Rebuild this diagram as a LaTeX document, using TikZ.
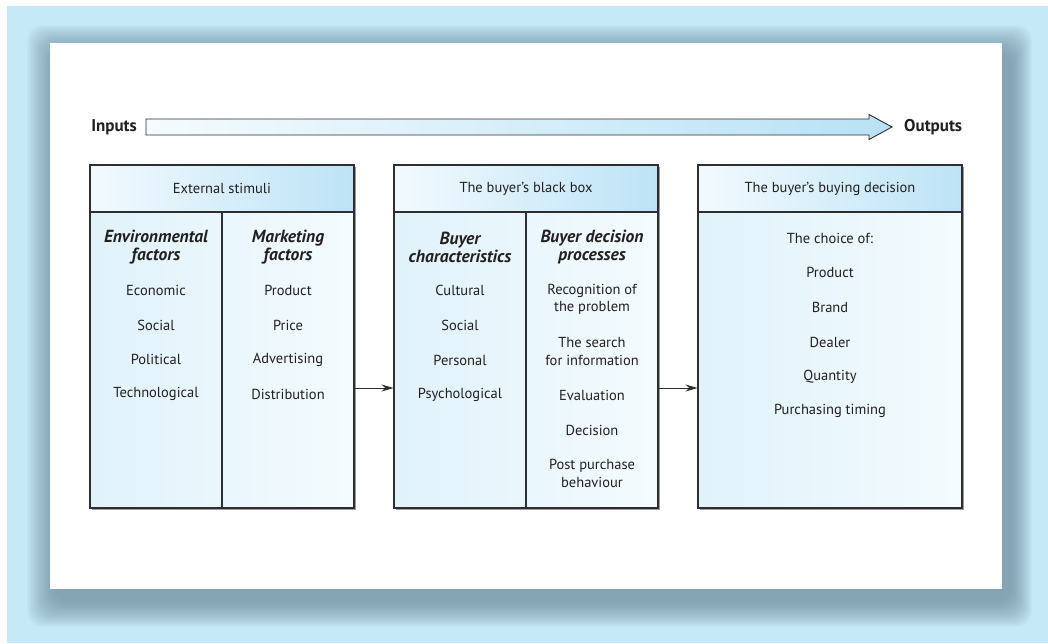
\documentclass[tikz,border=0pt]{standalone}
\usepackage{fontspec}
\setmainfont{PT Sans}
\usetikzlibrary{arrows.meta,shadows}
\definecolor{bgblue}{HTML}{C6E9F8}
\definecolor{shadowc}{HTML}{6A8898}
\definecolor{boxline}{HTML}{2E2E2E}
\definecolor{headL}{HTML}{F2FAFE}
\definecolor{headR}{HTML}{BDE3F6}
\definecolor{bodyL}{HTML}{E0F2FB}
\definecolor{bodyR}{HTML}{F4FBFE}
\definecolor{arrL}{HTML}{F4FBFE}
\definecolor{arrR}{HTML}{B9E1F5}
\definecolor{txt}{HTML}{231F20}
\newcommand{\itemfnt}{\fontsize{14.5}{17.5}\selectfont}
\newcommand{\colfnt}{\fontsize{17.5}{18}\selectfont}
\tikzset{
  boxhead/.style={draw=boxline, line width=1.1pt, left color=headL, right color=headR,
    minimum width=264pt, minimum height=47pt, inner sep=0pt,
    drop shadow={shadow xshift=1.5pt, shadow yshift=-1.5pt, fill=black!55, opacity=0.7}},
  boxbody/.style={draw=boxline, line width=1.1pt, left color=bodyL, right color=bodyR,
    minimum width=264pt, minimum height=296pt, inner sep=0pt,
    drop shadow={shadow xshift=1.5pt, shadow yshift=-1.5pt, fill=black!55, opacity=0.7}},
  lbl/.style={font=\itemfnt, text=txt, inner sep=0pt, align=center},
  colhead/.style={font=\colfnt\bfseries\itshape, text=txt, inner sep=0pt, align=center},
  io/.style={font=\fontsize{17}{20}\selectfont\bfseries, text=txt, inner sep=0pt},
  conn/.style={draw=boxline, line width=0.9pt, -{Stealth[length=12pt,width=7pt]}},
}
\begin{document}
\begin{tikzpicture}[x=1pt,y=-1pt]
\useasboundingbox (0,0) rectangle (1048,643);
% background
\fill[white] (0,0) rectangle (1048,643);
\fill[bgblue] (7,6) rectangle (1048,643);
% panel shadow
\foreach \i in {0,...,19} {
  \fill[shadowc, opacity=0.05, rounded corners=16pt]
    ({27+\i*1.4},{25+\i*1.4}) rectangle ({1032-\i*1.1},{627-\i*1.3});
}
\fill[white] (50,43) rectangle (1002,589);

% inputs / outputs
\node[io, anchor=east] (inp) at (137,127) {Inputs};
\node[io, anchor=west] (outp) at (904,127) {Outputs};
\coordinate (as) at (146,127);
\coordinate (ae) at (892,127);
\draw[boxline, line width=0.9pt, left color=arrL, right color=arrR]
  ([yshift=-8pt]as) -- ([xshift=-23pt,yshift=-8pt]ae) -- ([xshift=-23pt,yshift=-12.5pt]ae)
  -- (ae) -- ([xshift=-23pt,yshift=12.5pt]ae) -- ([xshift=-23pt,yshift=8pt]ae)
  -- ([yshift=8pt]as) -- cycle;

% box 1
\node[boxhead] (h1) at (222,188.5) {};
\node[lbl] (h1t) at (h1.center) {External stimuli};
\node[boxbody] (d1) at (222,360) {};
\draw[boxline, line width=1.1pt] (h1.south) -- (d1.south);
\node[colhead] (c11) at (156,247) {Environmental\\factors};
\node[lbl] (e1) at (156,290) {Economic};
\node[lbl] (e2) at (156,325) {Social};
\node[lbl] (e3) at (156,359) {Political};
\node[lbl] (e4) at (156,394) {Technological};
\node[colhead] (c12) at (288,247) {Marketing\\factors};
\node[lbl] (m1) at (288,290) {Product};
\node[lbl] (m2) at (288,325) {Price};
\node[lbl] (m3) at (288,360) {Advertising};
\node[lbl] (m4) at (288,394) {Distribution};

% box 2
\node[boxhead] (h2) at (526,188.5) {};
\node[lbl] (h2t) at (h2.center) {The buyer’s black box};
\node[boxbody] (d2) at (526,360) {};
\draw[boxline, line width=1.1pt] (h2.south) -- (d2.south);
\node[colhead] (c21) at (460,247) {Buyer\\characteristics};
\node[lbl] (b1) at (460,290) {Cultural};
\node[lbl] (b2) at (460,325) {Social};
\node[lbl] (b3) at (460,360) {Personal};
\node[lbl] (b4) at (460,395) {Psychological};
\node[colhead] (c22) at (592,247) {Buyer decision\\processes};
\node[lbl] (p1) at (592,299.5) {Recognition of\\the problem};
\node[lbl] (p2) at (592,351.5) {The search\\for information};
\node[lbl] (p3) at (592,395) {Evaluation};
\node[lbl] (p4) at (592,430) {Decision};
\node[lbl] (p5) at (592,473.5) {Post purchase\\behaviour};

% box 3
\node[boxhead] (h3) at (830,188.5) {};
\node[lbl] (h3t) at (h3.center) {The buyer’s buying decision};
\node[boxbody] (d3) at (830,360) {};
\node[lbl] (o0) at (830,238) {The choice of:};
\node[lbl] (o1) at (830,272) {Product};
\node[lbl] (o2) at (830,307) {Brand};
\node[lbl] (o3) at (830,342) {Dealer};
\node[lbl] (o4) at (830,377) {Quantity};
\node[lbl] (o5) at (830,411) {Purchasing timing};

% connectors
\draw[conn] ([yshift=-28pt]d1.east) -- ([yshift=-28pt]d2.west);
\draw[conn] ([yshift=-28pt]d2.east) -- ([yshift=-28pt]d3.west);
\end{tikzpicture}
\end{document}
